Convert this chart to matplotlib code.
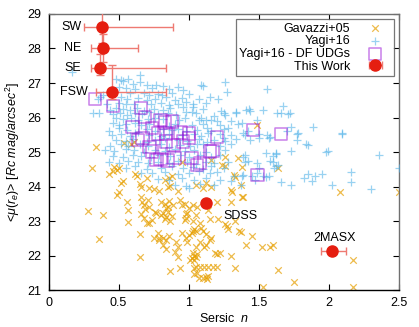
import numpy as np
import matplotlib
matplotlib.use("Agg")
from matplotlib import pyplot as plt

plt.rcParams['font.family'] = ['Liberation Sans', 'DejaVu Sans']
plt.rcParams['mathtext.fontset'] = 'custom'
plt.rcParams['mathtext.it'] = 'Liberation Sans:italic'
plt.rcParams['mathtext.rm'] = 'Liberation Sans'

# Gavazzi+05 (sersic n, <mu(re)>)
gav_n = [0.34, 0.31, 0.54, 0.59, 0.47, 0.50, 0.43, 0.46, 0.49, 0.52, 0.53, 0.50, 0.49, 0.56, 0.57,
         0.28, 0.39, 0.36, 0.65, 0.65, 0.66, 0.63, 0.62, 0.70, 0.66, 0.67, 0.68, 0.69, 0.72, 0.71,
         0.57, 0.65, 0.66, 0.68, 0.70, 0.72, 0.77, 0.80, 0.83, 0.84, 0.85, 0.87, 0.88, 0.78, 0.79,
         0.82, 0.84, 0.86, 0.91, 0.90, 0.92, 0.92, 0.87, 0.94, 0.95, 0.98, 0.98, 0.98, 0.99, 1.00,
         1.03, 1.04, 1.05, 1.03, 1.02, 1.04, 1.04, 1.05, 1.07, 1.03, 1.05, 0.72, 0.75, 0.79, 0.85,
         0.87, 0.92, 0.83, 0.86, 0.88, 0.80, 0.83, 0.85, 0.86, 0.89, 0.84, 0.76, 0.97, 1.00, 1.03,
         1.06, 1.20, 1.05, 1.10, 1.12, 1.16, 1.30, 1.31, 0.95, 1.16, 1.24, 1.26, 1.32, 1.33, 1.38,
         1.26, 1.35, 1.49, 1.64, 1.37, 1.39, 2.08, 2.50, 1.30, 1.38, 1.15, 1.21, 1.27, 1.28, 1.26,
         1.33, 1.36, 1.37, 1.45, 1.41, 1.52, 1.58, 1.60, 1.14, 1.08, 1.09, 1.10, 1.12, 1.15, 1.16,
         1.12, 1.11, 1.19, 1.22, 1.30, 1.04, 1.05, 1.08, 1.11, 1.14, 1.17, 1.20, 1.10, 1.12, 1.13,
         1.14, 1.33, 1.64, 1.75, 1.53, 2.17, 2.17, 1.08, 1.20, 1.05, 0.61, 0.74, 0.82, 0.94, 0.95,
         0.99, 0.97, 1.02, 1.01, 1.06, 0.75, 0.79, 0.82, 0.84, 1.06, 1.04]
gav_mu = [25.15, 24.55, 25.27, 25.24, 24.57, 24.55, 24.36, 24.45, 24.48, 24.09, 24.15, 23.85, 23.75, 23.56, 23.33,
          23.29, 23.18, 22.48, 21.97, 24.07, 24.00, 24.30, 24.35, 24.25, 23.70, 23.55, 23.45, 23.35, 23.40, 23.60,
          22.98, 22.62, 23.20, 23.10, 22.95, 22.94, 23.22, 23.18, 23.05, 23.12, 23.25, 23.00, 23.15, 22.64, 22.52,
          22.50, 22.45, 22.58, 22.40, 22.11, 22.25, 21.96, 21.55, 21.63, 22.64, 23.20, 23.10, 22.50, 22.40, 22.60,
          22.72, 22.78, 22.70, 22.06, 21.92, 21.88, 21.65, 21.68, 21.34, 23.00, 23.18, 23.95, 23.92, 23.88, 24.00,
          24.02, 23.88, 24.18, 24.25, 24.30, 23.55, 23.50, 23.42, 23.58, 23.45, 23.38, 23.27, 23.50, 23.38, 23.45,
          23.40, 23.56, 24.05, 23.95, 24.10, 23.98, 23.90, 23.85, 24.72, 24.77, 24.62, 24.58, 24.33, 24.28, 24.57,
          24.86, 24.82, 25.78, 24.55, 24.04, 23.70, 23.83, 23.83, 23.56, 23.70, 23.05, 23.05, 22.85, 22.78, 22.90,
          23.00, 22.72, 22.68, 22.57, 22.30, 22.25, 22.25, 22.30, 23.32, 22.95, 22.80, 22.70, 22.62, 22.45, 22.50,
          22.30, 22.25, 22.06, 22.06, 22.00, 22.00, 21.95, 21.68, 21.68, 21.68, 21.68, 21.68, 21.35, 21.38, 21.33,
          21.40, 21.63, 21.58, 21.24, 21.10, 21.87, 21.10, 22.40, 22.05, 22.25, 25.30, 23.03, 23.22, 23.60, 23.45,
          23.22, 23.03, 22.64, 21.87, 22.05, 22.50, 22.45, 22.30, 22.20, 21.50, 21.45]

# Yagi+16
yagi_n = [0.17, 0.65, 0.48, 0.52, 0.57, 0.53, 0.65, 1.26, 0.60, 0.70, 0.77, 0.82, 1.09, 1.10,
          0.50, 0.55, 0.62, 0.74, 0.86, 0.92, 1.56, 0.96,
          0.45, 0.58, 0.68, 0.72, 0.78, 0.81, 1.27, 0.88, 1.00,
          0.35, 0.37, 0.39, 0.52, 0.56, 0.64, 0.70, 0.76, 0.84, 0.90, 0.95, 1.07, 1.21, 1.15,
          0.42, 0.50, 0.55, 0.61, 0.73, 0.80, 0.86, 0.92, 0.98, 1.03, 1.12, 1.67,
          0.44, 0.48, 0.53, 0.58, 0.63, 0.68, 0.75, 0.82, 0.87, 0.96, 1.03, 1.10, 1.23, 1.41, 1.43, 1.53, 1.44,
          0.32, 0.36, 0.46, 0.51, 0.56, 0.62, 0.67, 0.72, 0.78, 0.85, 0.91, 0.98, 1.02, 1.05, 1.25, 1.26,
          1.34, 1.34, 1.63, 1.66, 1.71, 1.72, 1.18,
          0.48, 0.53, 0.59, 0.64, 0.71, 0.76, 0.82, 0.93, 0.97, 1.07, 1.12, 1.16, 1.20, 1.30, 1.49, 1.09,
          0.46, 0.50, 0.55, 0.62, 0.66, 0.72, 0.86, 0.90, 1.02, 1.10, 1.22, 1.35, 1.38, 1.73, 1.89, 1.13,
          0.43, 0.50, 0.56, 0.64, 0.70, 0.76, 0.82, 0.88, 0.92, 0.98, 1.06, 1.16, 1.25, 1.42, 1.70, 1.28,
          0.45, 0.52, 0.58, 0.62, 0.72, 0.80, 0.86, 0.95, 1.04, 1.09, 1.14, 1.22, 1.30, 1.39, 1.40, 1.50,
          1.56, 1.58, 1.77, 1.78, 2.09, 2.09,
          0.48, 0.55, 0.60, 0.70, 0.76, 0.83, 0.92, 0.99, 1.07, 1.13, 1.18, 1.26, 1.34, 1.44, 1.50, 1.57, 1.77, 1.25,
          0.44, 0.52, 0.57, 0.65, 0.71, 0.80, 0.86, 0.94, 1.01, 1.06, 1.10, 1.22, 1.30, 1.84, 1.85,
          0.40, 0.47, 0.55, 0.61, 0.68, 0.76, 0.83, 0.90, 0.97, 1.04, 1.12, 1.26, 1.55, 1.62, 1.73, 1.98, 1.99, 1.40,
          0.46, 0.53, 0.60, 0.66, 0.73, 0.79, 0.87, 0.94, 1.00, 1.08, 1.16, 1.22, 1.39, 1.62, 1.60, 2.36, 1.58,
          0.43, 0.50, 0.57, 0.64, 0.71, 0.78, 0.86, 0.92, 0.99, 1.05, 1.12, 1.18, 1.28, 1.40, 1.49, 1.60, 1.42,
          0.55, 0.62, 0.70, 0.80, 0.88, 0.96, 1.03, 1.10, 1.16, 1.25, 1.50, 1.61, 1.62, 1.64, 2.50,
          0.66, 0.74, 0.83, 0.92, 1.00, 1.07, 1.15, 1.20, 1.32, 1.38, 1.45, 1.49, 1.53, 1.57, 1.39, 2.16, 1.85,
          0.78, 0.86, 0.95, 1.04, 1.12, 1.22, 1.30, 1.47, 1.55, 1.66, 1.82, 1.88, 1.90, 1.95, 2.16,
          0.90, 0.98, 1.08, 1.18, 1.37, 1.73, 2.02, 1.00, 2.30]
yagi_mu = [27.33, 27.23, 27.12, 27.10, 27.13, 27.05, 27.04, 27.04, 26.98, 26.95, 26.94, 26.92, 26.94, 26.92,
           26.88, 26.85, 26.83, 26.85, 26.82, 26.87, 26.82, 26.80,
           26.72, 26.72, 26.70, 26.66, 26.68, 26.65, 26.73, 26.72, 26.68,
           26.55, 26.60, 26.65, 26.58, 26.55, 26.57, 26.52, 26.55, 26.58, 26.52, 26.57, 26.53, 26.53, 26.60,
           26.40, 26.42, 26.38, 26.40, 26.38, 26.42, 26.36, 26.40, 26.44, 26.38, 26.42, 26.33,
           26.22, 26.28, 26.25, 26.22, 26.28, 26.20, 26.25, 26.22, 26.28, 26.31, 26.31, 26.24, 26.20, 26.22, 26.26, 26.22, 26.18,
           26.12, 26.12, 26.10, 26.14, 26.08, 26.12, 26.10, 26.15, 26.10, 26.13, 26.08, 26.15, 26.15, 26.14, 26.12, 26.08,
           26.12, 26.16, 26.12, 26.14, 26.10, 26.14, 26.05,
           25.98, 25.95, 25.98, 25.92, 25.96, 25.98, 25.95, 25.92, 25.98, 25.93, 25.93, 25.93, 25.90, 25.90, 25.93, 26.00,
           25.83, 25.78, 25.80, 25.83, 25.78, 25.82, 25.76, 25.82, 25.78, 25.80, 25.77, 25.80, 25.83, 25.73, 25.72, 25.70,
           25.62, 25.69, 25.63, 25.59, 25.66, 25.60, 25.68, 25.63, 25.68, 25.62, 25.64, 25.62, 25.66, 25.60, 25.60, 25.70,
           25.50, 25.52, 25.47, 25.55, 25.50, 25.47, 25.52, 25.48, 25.52, 25.46, 25.55, 25.52, 25.48, 25.54, 25.50, 25.52,
           25.50, 25.44, 25.52, 25.55, 25.52, 25.55,
           25.35, 25.32, 25.38, 25.30, 25.36, 25.40, 25.36, 25.33, 25.38, 25.30, 25.35, 25.32, 25.38, 25.35, 25.40, 25.40, 25.35, 25.42,
           25.18, 25.22, 25.16, 25.22, 25.18, 25.24, 25.15, 25.20, 25.18, 25.24, 25.22, 25.18, 25.22, 25.23, 25.20,
           25.06, 25.02, 25.08, 25.05, 25.00, 25.06, 25.02, 25.08, 25.03, 25.06, 25.00, 25.05, 24.97, 24.97, 25.03, 25.01, 25.04, 24.90,
           24.88, 24.85, 24.92, 24.88, 24.85, 24.92, 24.88, 24.92, 24.86, 24.90, 24.85, 24.92, 24.86, 24.93, 24.88, 24.91, 24.75,
           24.72, 24.68, 24.74, 24.70, 24.67, 24.72, 24.68, 24.74, 24.70, 24.66, 24.72, 24.68, 24.70, 24.72, 24.67, 24.70, 24.75,
           24.55, 24.58, 24.52, 24.55, 24.58, 24.53, 24.56, 24.52, 24.58, 24.55, 24.53, 24.54, 24.60, 24.62, 24.54,
           24.40, 24.38, 24.42, 24.36, 24.40, 24.44, 24.38, 24.42, 24.30, 24.30, 24.30, 24.40, 24.30, 24.30, 24.32, 24.43, 24.35,
           24.22, 24.18, 24.25, 24.20, 24.24, 24.18, 24.15, 24.20, 24.28, 24.14, 24.25, 24.15, 24.30, 24.35, 24.14,
           24.05, 24.02, 24.08, 24.03, 24.04, 24.04, 24.04, 23.95, 23.92]

# Yagi+16 - DF UDGs
udg_n = [0.33, 0.46, 0.66, 0.69, 0.60, 0.80, 0.83, 0.88, 0.74, 0.78, 0.84, 0.94, 1.00, 0.67, 0.64,
         1.00, 0.96, 0.89, 0.74, 0.80, 0.85, 0.90, 1.02, 1.06, 0.77, 1.15, 1.17, 1.20, 1.46, 1.66,
         1.08, 1.49, 0.84, 0.72]
udg_mu = [26.54, 26.34, 26.27, 26.02, 25.73, 25.93, 25.85, 25.88, 25.69, 25.54, 25.54, 25.56, 25.54, 25.40, 25.35,
          25.40, 25.30, 25.20, 25.01, 24.80, 24.75, 24.82, 24.82, 24.62, 24.77, 25.01, 25.03, 25.44, 25.64, 25.52,
          24.68, 24.33, 25.30, 25.15]

# This Work
tw_names = ["SW", "NE", "SE", "FSW", "SDSS", "2MASX"]
tw_n = [0.38, 0.39, 0.37, 0.45, 1.12, 2.02]
tw_mu = [28.62, 28.01, 27.43, 26.74, 23.53, 22.13]
tw_n_lo = [0.13, 0.09, 0.07, 0.11, 0.02, 0.08]
tw_n_hi = [0.51, 0.25, 0.47, 0.39, 0.02, 0.10]
tw_mu_lo = [0.45, 0.40, 0.20, 0.20, 0.0, 0.0]
tw_mu_hi = [0.50, 0.40, 0.40, 0.78, 0.0, 0.0]

c_gav = "#e69f00"
c_yagi = "#56b4e9"
c_udg = "#9400d3"
c_red = "#e51e10"

fig = plt.figure(figsize=(4.19, 3.27), dpi=100)
ax = fig.add_axes([0.1158, 0.1131, 0.8365, 0.8441])

h1 = ax.scatter(gav_n, gav_mu, marker="x", s=22, color=c_gav, alpha=0.7, lw=0.9, zorder=2)
h2 = ax.scatter(yagi_n, yagi_mu, marker="+", s=30, color=c_yagi, alpha=0.6, lw=0.9, zorder=3)
h3 = ax.scatter(udg_n, udg_mu, marker="s", s=80, facecolors="none", edgecolors=c_udg, alpha=0.5, lw=1.1,
                zorder=4)
ax.errorbar(tw_n, tw_mu, xerr=[tw_n_lo, tw_n_hi], yerr=[tw_mu_lo, tw_mu_hi], fmt="o", ms=8,
            color=c_red, ecolor="#ee7a72", elinewidth=1.0, capsize=3, capthick=1.0, zorder=6)
# legend proxy: only the horizontal bar is shown in the key
h4 = ax.errorbar([np.nan], [np.nan], xerr=[[0.1]], fmt="o", ms=8, color=c_red, ecolor="#ee7a72",
                 elinewidth=1.0, capsize=3, capthick=1.0)

for name, xt, yt, ha in [("SW", 0.235, 28.62, "right"), ("NE", 0.235, 28.01, "right"),
                         ("SE", 0.235, 27.43, "right"), ("FSW", 0.28, 26.74, "right"),
                         ("SDSS", 1.37, 23.14, "center"), ("2MASX", 2.04, 22.50, "center")]:
    ax.text(xt, yt, name, ha=ha, va="center", fontsize=9, zorder=7)

ax.set_xlim(0, 2.5)
ax.set_ylim(21, 29)
ax.set_xticks([0, 0.5, 1, 1.5, 2, 2.5])
ax.set_xticklabels(["0", "0.5", "1", "1.5", "2", "2.5"])
ax.set_yticks(range(21, 30))
ax.tick_params(direction="in", top=True, right=True, length=4, labelsize=9, pad=5)
for s in ["top", "right"]:
    ax.spines[s].set_color("#707070")
for s in ax.spines.values():
    s.set_linewidth(1.0)

ax.set_xlabel("Sersic  $n$", fontsize=9, labelpad=2)
ax.set_ylabel(r"<$\mu$($r_e$)> [$Rc\ mag/arcsec^2$]", fontsize=9, labelpad=4)

leg = ax.legend([h1, h2, h3, h4], ["Gavazzi+05", "Yagi+16", "Yagi+16 - DF UDGs", "This Work"],
                loc="upper right", markerfirst=False, fancybox=False, fontsize=9,
                borderaxespad=0.4, handlelength=2.4, handletextpad=0.8, labelspacing=0.05,
                borderpad=0.3, frameon=True)
leg.get_frame().set_edgecolor("#555555")
leg.get_frame().set_linewidth(0.9)

fig.savefig("out.png", dpi=100)
